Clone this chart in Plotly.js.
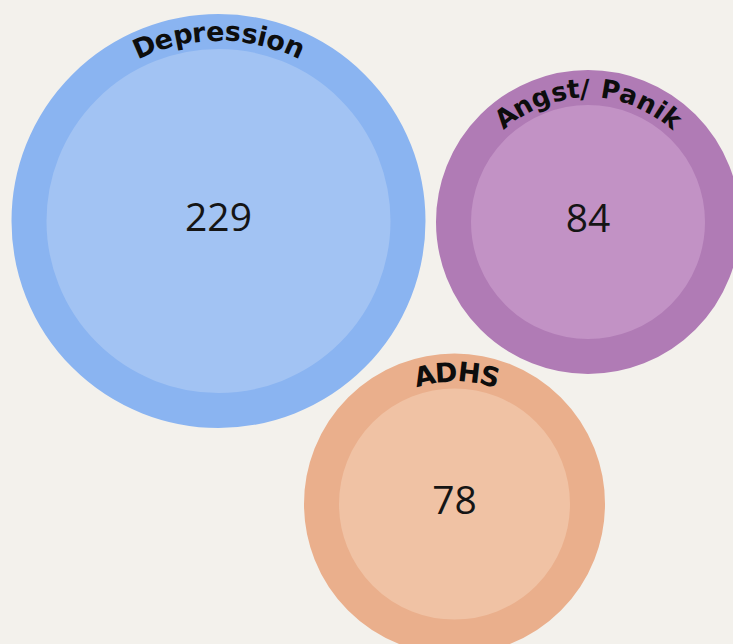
<!DOCTYPE html>
<html>
<head>
<meta charset="utf-8">
<script src="https://cdn.plot.ly/plotly-3.0.1.min.js"></script>
<style>
  html, body { margin: 0; padding: 0; background: #f3f1ec; }
  #chart { width: 733px; height: 644px; }
</style>
</head>
<body>
<div id="chart"></div>
<script>
// ---- data ----
const categories = ['Depression', 'Angst/ Panik', 'ADHS'];
const counts = [229, 84, 78];

// ---- layout (pixel-space positions / sizes) ----
const centerX = [218.5, 588, 454.5];
const centerY = [220, 221, 503];
const outerRadius = [207, 152, 150.5];
const ringWidth = 35;
const labelRadius = [189, 132.5, 131];
const labelSpanDeg = [47, 77.7, 28.7];
const labelOffsetDeg = [0.2, 0.35, 1.3];
const labelFontSize = [27, 26, 27];

// ---- styles ----
const innerColors = ['#a2c3f3', '#c292c5', '#f0c2a4'];
const outerColors = ['#8ab4f1', '#b07bb5', '#eaaf8c'];
const bg = '#f3f1ec';

const bubbles = {
  type: 'scatter',
  mode: 'markers+text',
  x: centerX,
  y: centerY.map(v => v + 1),
  text: counts.map(String),
  textposition: 'middle center',
  textfont: { family: 'Open Sans, sans-serif', size: 39, color: '#151515' },
  hoverinfo: 'skip',
  marker: {
    size: outerRadius.map(r => 2 * r - ringWidth),
    sizemode: 'diameter',
    color: innerColors,
    opacity: 1,
    line: { width: outerRadius.map(() => ringWidth), color: outerColors }
  },
  cliponaxis: false
};

// curved labels, one annotation per character
const canvas = document.createElement('canvas');
const ctx = canvas.getContext('2d');
const annotations = [];
categories.forEach((label, i) => {
  const fs = labelFontSize[i];
  ctx.font = 'bold ' + fs + 'px "DejaVu Sans"';
  const chars = Array.from(label);
  const widths = chars.map(c => ctx.measureText(c).width);
  const pos = [];
  let acc = 0;
  widths.forEach(w => { pos.push(acc + w / 2); acc += w; });
  const p0 = pos[0], p1 = pos[pos.length - 1];
  chars.forEach((c, j) => {
    if (c === ' ') return;
    const t = (pos[j] - p0) / (p1 - p0);
    const deg = labelOffsetDeg[i] - labelSpanDeg[i] / 2 + t * labelSpanDeg[i];
    const rad = deg * Math.PI / 180;
    annotations.push({
      x: centerX[i] + labelRadius[i] * Math.sin(rad),
      y: centerY[i] - labelRadius[i] * Math.cos(rad),
      xref: 'x', yref: 'y',
      text: c,
      showarrow: false,
      textangle: deg,
      xanchor: 'center', yanchor: 'middle',
      borderpad: 0,
      font: { family: 'DejaVu Sans, sans-serif', weight: 700, size: fs, color: '#0d0d0d' }
    });
  });
});

const layout = {
  width: 733,
  height: 644,
  margin: { l: 0, r: 0, t: 0, b: 0, pad: 0 },
  paper_bgcolor: bg,
  plot_bgcolor: bg,
  showlegend: false,
  xaxis: { range: [0, 733], visible: false, fixedrange: true },
  yaxis: { range: [644, 0], visible: false, fixedrange: true },
  annotations: annotations
};

Plotly.newPlot('chart', [bubbles], layout, { displayModeBar: false, staticPlot: true });
</script>
</body>
</html>
